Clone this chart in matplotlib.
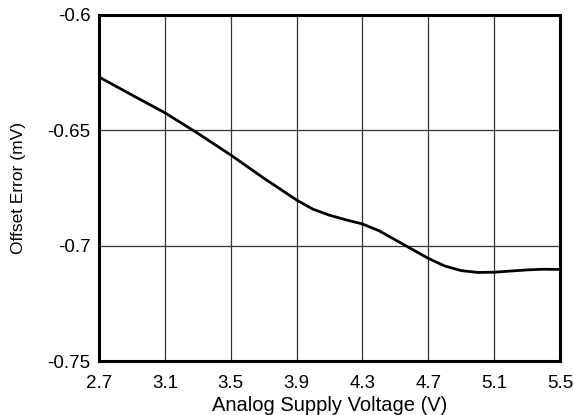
import matplotlib
matplotlib.use("Agg")
import matplotlib.pyplot as plt

plt.rcParams['font.family'] = ['Liberation Sans', 'DejaVu Sans']

# analog supply voltage (V) vs offset error (mV)
voltage = [2.7, 2.9, 3.1, 3.3, 3.5, 3.7, 3.9, 4.0, 4.1, 4.2, 4.3, 4.4, 4.5,
           4.6, 4.7, 4.8, 4.9, 5.0, 5.1, 5.2, 5.3, 5.4, 5.5]
offset = [-0.6269, -0.6347, -0.6424, -0.6513, -0.6607, -0.6707, -0.6802,
          -0.6842, -0.6868, -0.6888, -0.6906, -0.6935, -0.6975, -0.7015,
          -0.7055, -0.7088, -0.7108, -0.7116, -0.7115, -0.7110, -0.7105,
          -0.7102, -0.7103]

xticks = [2.7, 3.1, 3.5, 3.9, 4.3, 4.7, 5.1, 5.5]
yticks = [-0.75, -0.7, -0.65, -0.6]
ytick_labels = ['-0.75', '-0.7', '-0.65', '-0.6']

fig = plt.figure(figsize=(5.74, 4.15), dpi=100)
ax = fig.add_axes([0.1725, 0.130, 0.8031, 0.834])

ax.plot(voltage, offset, color='black', linewidth=2.0, solid_capstyle='round')

ax.set_xlim(2.7, 5.5)
ax.set_ylim(-0.75, -0.6)
ax.set_xticks(xticks)
ax.set_xticklabels([str(v) for v in xticks])
ax.set_yticks(yticks)
ax.set_yticklabels(ytick_labels)
ax.tick_params(axis='x', length=0, labelsize=13.5, pad=10)
ax.tick_params(axis='y', length=0, labelsize=13.5, pad=6)
ax.grid(True, color='#333333', linewidth=0.9)
ax.set_axisbelow(True)
for s in ax.spines.values():
    s.set_linewidth(2.2)
    s.set_color('black')

ax.set_xlabel('Analog Supply Voltage (V)', fontsize=14.5)
ax.set_ylabel('Offset Error (mV)', fontsize=12.5)
ax.xaxis.set_label_coords(0.5, -0.102)
ax.yaxis.set_label_coords(-0.158, 0.5)

fig.savefig('out.png', dpi=100)
